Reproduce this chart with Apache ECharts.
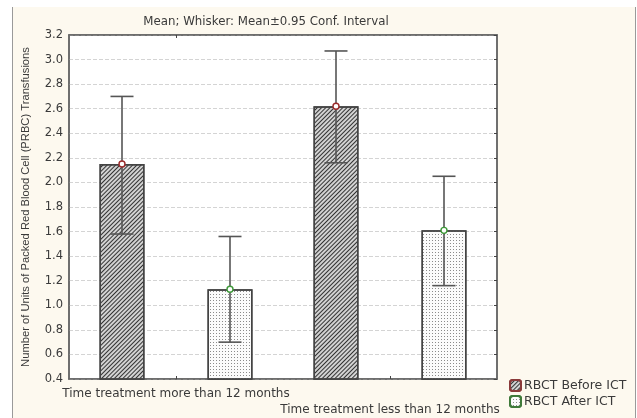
<!DOCTYPE html>
<html>
<head>
<meta charset="utf-8">
<script src="https://cdn.jsdelivr.net/npm/echarts@6/dist/echarts.min.js"></script>
<style>
html, body { margin: 0; padding: 0; background: #fff; }
#main { width: 637px; height: 418px; }
</style>
</head>
<body>
<div id="main"></div>
<script>
// data
var categories = ['Time treatment more than 12 months', 'Time treatment less than 12 months'];
var seriesNames = ['RBCT Before ICT', 'RBCT After ICT'];
var beforeMean = [2.15, 2.62];
var beforeLow = [1.58, 2.16];
var beforeHigh = [2.70, 3.07];
var afterMean = [1.13, 1.61];
var afterLow = [0.70, 1.16];
var afterHigh = [1.56, 2.05];
var yTicks = { min: 0.4, max: 3.2, step: 0.2 };

var chart = echarts.init(document.getElementById('main'));

function errData(mean, low, high) {
	return mean.map(function (m, i) { return [i, low[i], high[i], m]; });
}

// whisker + mean marker, shifted to sit on its bar
function whisker(shift, markColor) {
	return function (params, api) {
		var c = api.value(0);
		var lo = api.coord([c, api.value(1)]);
		var hi = api.coord([c, api.value(2)]);
		var mid = api.coord([c, api.value(3)]);
		var x = lo[0] + shift;
		var cap = 11.5;
		var ln = { stroke: '#555', lineWidth: 1.6 };
		return {
			type: 'group',
			children: [
				{ type: 'line', shape: { x1: x, y1: hi[1], x2: x, y2: lo[1] }, style: ln },
				{ type: 'line', shape: { x1: x - cap, y1: hi[1], x2: x + cap, y2: hi[1] }, style: ln },
				{ type: 'line', shape: { x1: x - cap, y1: lo[1], x2: x + cap, y2: lo[1] }, style: ln },
				{ type: 'circle', shape: { cx: x, cy: mid[1], r: 3 }, style: { fill: '#fff', stroke: markColor, lineWidth: 1.4 } }
			]
		};
	};
}

var hatch = {
	symbol: 'rect', symbolSize: 1,
	dashArrayX: [1, 0], dashArrayY: [1, 2],
	rotation: -Math.PI / 4,
	color: '#333'
};
var dots = {
	symbol: 'rect', symbolSize: 1,
	dashArrayX: [1, 2], dashArrayY: [1, 2],
	color: '#8a8a8a'
};

var wide = 'DejaVu Sans, Verdana, sans-serif';

var option = {
	backgroundColor: '#fff',
	animation: false,
	textStyle: { fontFamily: 'Liberation Sans, Arial, sans-serif' },
	graphic: [
		{ type: 'rect', shape: { x: 12, y: 7, width: 623, height: 411 }, style: { fill: '#fdf9ef' }, z: -10 },
		{ type: 'line', shape: { x1: 12.5, y1: 7, x2: 12.5, y2: 418 }, style: { stroke: '#9a9a9a', lineWidth: 1 }, z: -9 },
		{ type: 'line', shape: { x1: 635.5, y1: 7, x2: 635.5, y2: 418 }, style: { stroke: '#9a9a9a', lineWidth: 1 }, z: -9 }
	],
	title: {
		text: 'Mean; Whisker: Mean\u00b10.95 Conf. Interval',
		left: 261, top: 11, textAlign: 'center',
		textStyle: { fontFamily: wide, fontSize: 11.8, fontWeight: 'normal', color: '#3a3a3a' }
	},
	legend: {
		orient: 'vertical',
		left: 504, top: 374,
		itemWidth: 11, itemHeight: 11, itemGap: 3,
		data: [
			{ name: seriesNames[0], itemStyle: { borderColor: '#8a3a3a' } },
			{ name: seriesNames[1], itemStyle: { borderColor: '#3f7a3a' } }
		],
		textStyle: { fontFamily: wide, fontSize: 12.5, color: '#3a3a3a', padding: [0, 0, 0, -2] }
	},
	grid: {
		left: 69, right: 140, top: 35, bottom: 36,
		show: true, backgroundColor: '#fff', borderColor: '#666', borderWidth: 1.5
	},
	xAxis: [{
		type: 'category',
		data: categories,
		axisLine: { show: true, lineStyle: { color: '#666', width: 1.5 } },
		axisTick: { show: true, inside: true, alignWithLabel: true, length: 3, lineStyle: { color: '#444' } },
		axisLabel: {
			interval: 0, color: '#3a3a3a', fontFamily: wide, fontSize: 12, margin: 7, lineHeight: 16,
			formatter: function (v, i) { return i % 2 ? '\n' + v : v; }
		}
	}, {
		type: 'category',
		position: 'top',
		data: categories,
		axisLine: { show: true, lineStyle: { color: '#666', width: 1.5 } },
		axisTick: { show: true, inside: true, alignWithLabel: true, length: 3, lineStyle: { color: '#444' } },
		axisLabel: { show: false }
	}],
	yAxis: [{
		type: 'value',
		min: yTicks.min, max: yTicks.max, interval: yTicks.step,
		name: 'Number of Units of Packed Red Blood Cell (PRBC) Transfusions',
		nameLocation: 'middle', nameGap: 38,
		nameTextStyle: { fontSize: 11.2, color: '#3a3a3a' },
		axisLine: { show: true, lineStyle: { color: '#666', width: 1.5 } },
		axisTick: { show: false },
		axisLabel: { color: '#3a3a3a', fontFamily: wide, fontSize: 11.5, margin: 6, formatter: function (v) { return v.toFixed(1); } },
		splitLine: { show: true, lineStyle: { color: '#d4d4d4', type: 'dashed', width: 1 } }
	}, {
		type: 'value',
		position: 'right',
		min: yTicks.min, max: yTicks.max, interval: yTicks.step,
		axisLine: { show: true, lineStyle: { color: '#666', width: 1.5 } },
		axisTick: { show: true, inside: true, length: 3, lineStyle: { color: '#444' } },
		axisLabel: { show: false },
		splitLine: { show: false }
	}],
	series: [
		{
			name: seriesNames[0], type: 'bar',
			data: beforeMean, barWidth: 45, barGap: '140%',
			itemStyle: { color: '#d2d2d2', borderColor: '#444', borderWidth: 1.5, decal: hatch }
		},
		{
			name: seriesNames[1], type: 'bar',
			data: afterMean, barWidth: 45, barGap: '140%',
			itemStyle: { color: '#fbfbfb', borderColor: '#444', borderWidth: 1.5, decal: dots }
		},
		{
			name: 'err-before', type: 'custom', z: 5,
			renderItem: whisker(-54, '#9b2a2a'),
			data: errData(beforeMean, beforeLow, beforeHigh)
		},
		{
			name: 'err-after', type: 'custom', z: 5,
			renderItem: whisker(54, '#3f9a3a'),
			data: errData(afterMean, afterLow, afterHigh)
		}
	]
};

chart.setOption(option);
</script>
</body>
</html>
